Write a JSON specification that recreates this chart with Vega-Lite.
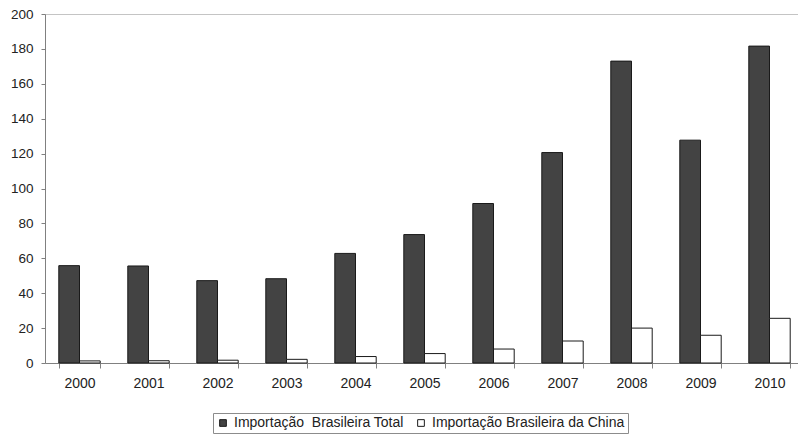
{
  "$schema": "https://vega.github.io/schema/vega-lite/v6.json",
  "width": 759,
  "height": 349,
  "autosize": {"type": "none"},
  "padding": {"left": 45, "top": 14, "right": 0, "bottom": 77},
  "background": "white",
  "config": {
    "font": "Liberation Sans",
    "view": {"stroke": "#c4c4c4", "strokeWidth": 1},
    "axis": {
      "labelFont": "Liberation Sans",
      "labelFontSize": 13.5,
      "labelColor": "#222222",
      "domainColor": "#808080",
      "tickColor": "#808080",
      "grid": false,
      "title": null
    }
  },
  "data": {
    "values": [
      {"ano": "2000", "serie": "Importação\u00a0 Brasileira Total", "valor": 55.8},
      {"ano": "2001", "serie": "Importação\u00a0 Brasileira Total", "valor": 55.6},
      {"ano": "2002", "serie": "Importação\u00a0 Brasileira Total", "valor": 47.2},
      {"ano": "2003", "serie": "Importação\u00a0 Brasileira Total", "valor": 48.3},
      {"ano": "2004", "serie": "Importação\u00a0 Brasileira Total", "valor": 62.8},
      {"ano": "2005", "serie": "Importação\u00a0 Brasileira Total", "valor": 73.6},
      {"ano": "2006", "serie": "Importação\u00a0 Brasileira Total", "valor": 91.4},
      {"ano": "2007", "serie": "Importação\u00a0 Brasileira Total", "valor": 120.6},
      {"ano": "2008", "serie": "Importação\u00a0 Brasileira Total", "valor": 173.0},
      {"ano": "2009", "serie": "Importação\u00a0 Brasileira Total", "valor": 127.7},
      {"ano": "2010", "serie": "Importação\u00a0 Brasileira Total", "valor": 181.6},
      {"ano": "2000", "serie": "Importação Brasileira da China", "valor": 1.2},
      {"ano": "2001", "serie": "Importação Brasileira da China", "valor": 1.3},
      {"ano": "2002", "serie": "Importação Brasileira da China", "valor": 1.6},
      {"ano": "2003", "serie": "Importação Brasileira da China", "valor": 2.1},
      {"ano": "2004", "serie": "Importação Brasileira da China", "valor": 3.7},
      {"ano": "2005", "serie": "Importação Brasileira da China", "valor": 5.4},
      {"ano": "2006", "serie": "Importação Brasileira da China", "valor": 8.0},
      {"ano": "2007", "serie": "Importação Brasileira da China", "valor": 12.6},
      {"ano": "2008", "serie": "Importação Brasileira da China", "valor": 20.0},
      {"ano": "2009", "serie": "Importação Brasileira da China", "valor": 15.9},
      {"ano": "2010", "serie": "Importação Brasileira da China", "valor": 25.6}
    ]
  },
  "mark": {"type": "bar", "stroke": "#1a1a1a", "strokeWidth": 1},
  "encoding": {
    "x": {
      "field": "ano",
      "type": "nominal",
      "scale": {"paddingInner": 0.4, "paddingOuter": 0.2},
      "axis": {
        "labelAngle": 0,
        "tickBand": "extent",
        "tickSize": 5,
        "labelPadding": 8,
        "labelFontSize": 14
      }
    },
    "xOffset": {
      "field": "serie",
      "type": "nominal",
      "scale": {"domain": ["Importação\u00a0 Brasileira Total", "Importação Brasileira da China"]}
    },
    "y": {
      "field": "valor",
      "type": "quantitative",
      "scale": {"domain": [0, 200], "nice": false},
      "axis": {
        "values": [0, 20, 40, 60, 80, 100, 120, 140, 160, 180, 200],
        "tickSize": 4,
        "labelPadding": 8,
        "labelFontSize": 13.5
      }
    },
    "fill": {
      "field": "serie",
      "type": "nominal",
      "scale": {
        "domain": ["Importação\u00a0 Brasileira Total", "Importação Brasileira da China"],
        "range": ["#434343", "#ffffff"]
      },
      "legend": {
        "title": null,
        "orient": "none",
        "direction": "horizontal",
        "legendX": 168,
        "legendY": 399,
        "strokeColor": "#8c8c8c",
        "padding": 3,
        "symbolType": "square",
        "symbolSize": 45,
        "symbolStrokeColor": "#1a1a1a",
        "symbolStrokeWidth": 1,
        "labelFont": "Liberation Sans",
        "labelFontSize": 14,
        "labelColor": "#222222",
        "labelOffset": 4,
        "columnPadding": 10,
        "labelLimit": 300
      }
    }
  }
}
